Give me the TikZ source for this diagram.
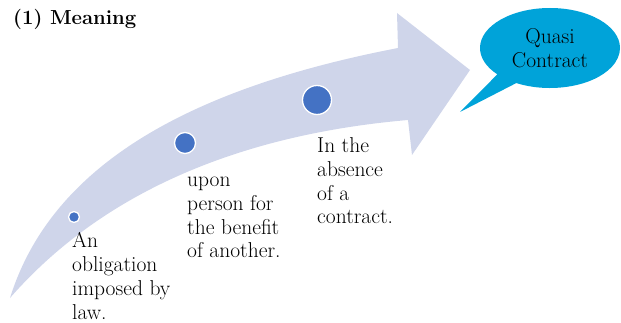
\documentclass[tikz,border=0pt]{standalone}
\usepackage{fontspec}
\usepackage{tikz}
\usetikzlibrary{shapes.callouts}
\definecolor{bandgray}{HTML}{CFD5EA}
\definecolor{dotblue}{HTML}{4472C4}
\definecolor{calloutblue}{HTML}{00A3D9}

\begin{document}
\begin{tikzpicture}[x=1pt, y=-1pt, every node/.style={font=\fontsize{21.5}{23.7}\selectfont},
	dot/.style={circle, fill=dotblue, draw=white, line width=1.3pt, inner sep=0pt},
	note/.style={anchor=base west, align=left, inner sep=0pt}]
	\useasboundingbox (0,0) rectangle (621,323);
	% curved arrow
	\fill[bandgray] (10,298) .. controls (50,170) and (180,90) .. (398,48)
		-- (397,13) -- (470,70) -- (412,155) -- (408,120)
		.. controls (235,135) and (100,195) .. cycle;
	\foreach \n/\x/\y/\r in {1/74/217/11, 2/185/143/21, 3/317/100/29} {
		\node[dot, minimum size=\r pt] (dot\n) at (\x,\y) {};
	}
	% base anchor sits on the last line
	\node[note] (txt1) at (72,319) {An\\obligation\\imposed by\\law.};
	\node[note] (txt2) at (187,258) {upon\\person for\\the benefit\\of another.};
	\node[note] (txt3) at (317,224) {In the\\absence\\of a\\contract.};
	\node[ellipse callout, fill=calloutblue, minimum width=140pt, minimum height=80pt,
		callout absolute pointer={(460,112)}, callout pointer arc=20, align=center] (quasi) at (550,48) {Quasi\\Contract};
	\node[anchor=base west, inner sep=0pt, font=\fontsize{20.3}{23.7}\selectfont\bfseries] (title) at (13,25) {(1) Meaning};
\end{tikzpicture}
\end{document}
